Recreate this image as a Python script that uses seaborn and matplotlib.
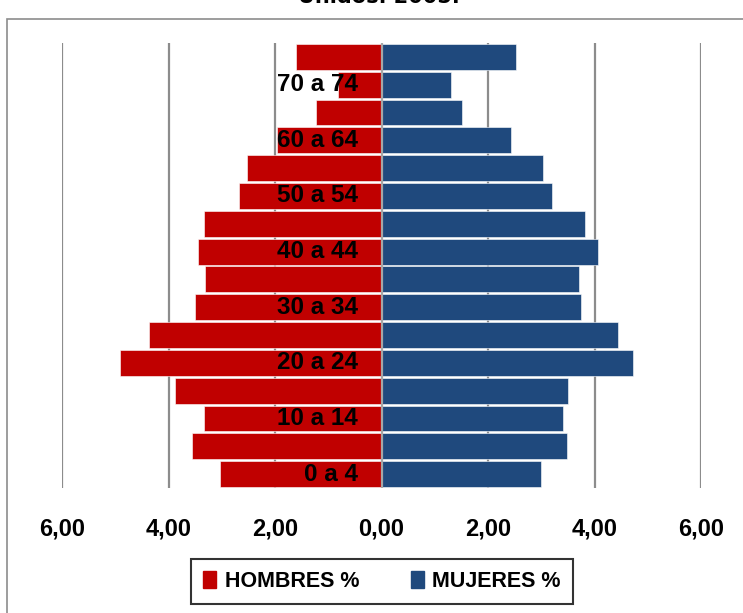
import numpy as np
import pandas as pd
import matplotlib
matplotlib.use("Agg")
import matplotlib.pyplot as plt
import matplotlib.patches as mpatches
import seaborn as sns

# Data (percent of total population), youngest group first
AGES = ["0 a 4", "5 a 9", "10 a 14", "15 a 19", "20 a 24", "25 a 29",
        "30 a 34", "35 a 39", "40 a 44", "45 a 49", "50 a 54", "55 a 59",
        "60 a 64", "65 a 69", "70 a 74", "75 y más"]
HOMBRES = [3.03, 3.56, 3.34, 3.87, 4.92, 4.37, 3.51, 3.31,
           3.45, 3.34, 2.67, 2.52, 1.96, 1.23, 0.81, 1.61]
MUJERES = [3.00, 3.49, 3.40, 3.51, 4.72, 4.45, 3.74, 3.70,
           4.07, 3.82, 3.20, 3.03, 2.43, 1.52, 1.31, 2.53]
SHOWN_LABELS = ["0 a 4", "10 a 14", "20 a 24", "30 a 34",
                "40 a 44", "50 a 54", "60 a 64", "70 a 74"]
XTICKS = [-6, -4, -2, 0, 2, 4, 6]

RED = "#C00000"
BLUE = "#1F497D"
GRID = "#8C8C8C"

sns.set_theme(style="white")
plt.rcParams["font.family"] = ["Liberation Sans", "DejaVu Sans"]

df = pd.DataFrame({
    "edad": AGES * 2,
    "sexo": ["HOMBRES %"] * len(AGES) + ["MUJERES %"] * len(AGES),
    "valor": [-v for v in HOMBRES] + MUJERES,
})
order = AGES[::-1]  # oldest at top

fig = plt.figure(figsize=(7.43, 6.13), dpi=100)
ax = fig.add_axes([62 / 743, 1 - 488 / 613, (701 - 62) / 743, (488 - 43) / 613])

sns.barplot(data=df, x="valor", y="edad", hue="sexo", order=order, dodge=False,
            palette={"HOMBRES %": RED, "MUJERES %": BLUE}, saturation=1,
            width=0.93, edgecolor="white", linewidth=0.4, legend=False, ax=ax, zorder=2)

ax.set_xlim(-6, 6)
ax.set_ylim(len(AGES) - 0.5, -0.5)
ax.set_xticks(XTICKS)
ax.set_xticklabels([f"{abs(t):.2f}".replace(".", ",") for t in XTICKS],
                   fontsize=17, fontweight="bold", color="black")
ax.tick_params(axis="x", length=0, pad=21)
ax.set_yticks([])
ax.set_xlabel("")
ax.set_ylabel("")
for s in ax.spines.values():
    s.set_visible(False)
for t in XTICKS:
    if t != 0:
        ax.axvline(t, color=GRID, lw=1.6, zorder=0)
ax.axvline(0, color="#A6A6A6", lw=1.6, zorder=3)

# category labels drawn over the bars
for i, age in enumerate(order):
    if age in SHOWN_LABELS:
        ax.text(-0.45, i, age, ha="right", va="center", fontsize=17.5,
                fontweight="bold", color="black", zorder=4)

# legend
handles = [mpatches.Patch(color=RED, label="HOMBRES %"),
           mpatches.Patch(color=BLUE, label="MUJERES %")]
leg = fig.legend(handles=handles, loc="center", bbox_to_anchor=(382 / 743, 1 - 581.5 / 613),
                 ncol=2, frameon=True, fancybox=False, handlelength=0.6, handleheight=0.8,
                 handletextpad=0.4, columnspacing=2.4, borderpad=0.55, borderaxespad=0,
                 prop={"size": 15.5, "weight": "bold"})
leg.get_frame().set_edgecolor("black")
leg.get_frame().set_linewidth(1.5)
for txt in leg.get_texts():
    txt.set_color("black")

# chart border (runs off the right and bottom edges)
fig.add_artist(mpatches.Rectangle((7 / 743, -0.2), 2, 1.2 - 19 / 613,
                                  transform=fig.transFigure, fill=False,
                                  edgecolor=GRID, lw=1.2))

# title (only its last line shows at the top edge)
fig.text(379 / 743, 1 - 7 / 613, "Unidos. 2005.", ha="center", va="bottom",
         fontsize=15, fontweight="bold", family="DejaVu Sans", color="black")

fig.savefig("out.png", dpi=100)
